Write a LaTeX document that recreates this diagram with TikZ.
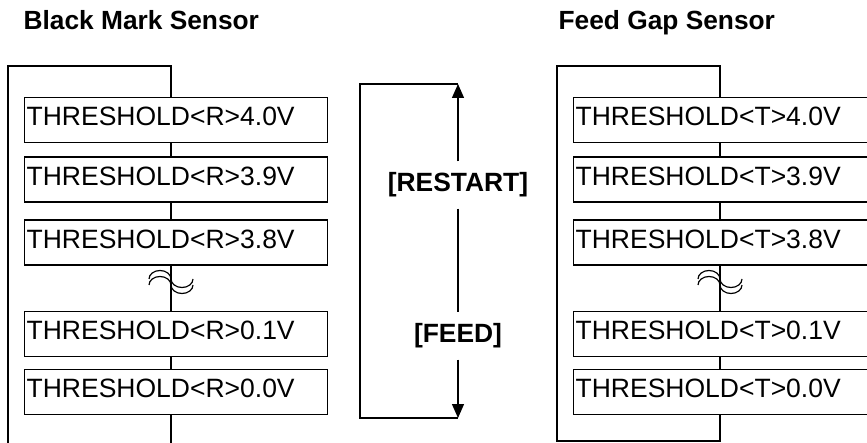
\documentclass[tikz,border=0pt]{standalone}
\usepackage{fontspec}
\setmainfont{Liberation Sans}
\usetikzlibrary{arrows.meta}

\begin{document}
\begin{tikzpicture}[x=1pt,y=-1pt,line width=1.3pt,
    thrbox/.style={draw,anchor=north west,minimum height=45pt,text width=299pt,
      inner xsep=2pt,inner ysep=0pt,align=left,text height=19pt,text depth=8pt,
      font=\fontsize{26.5}{30}\selectfont},
    hdr/.style={anchor=base west,inner sep=0pt,font=\fontsize{26.3}{30}\selectfont\bfseries},
    keyname/.style={minimum height=46pt,inner sep=0pt,font=\fontsize{26.4}{30}\selectfont\bfseries},
    feedarrow/.style={-{Triangle[length=14pt,width=12pt]}},
    wave/.style={line width=1.2pt}]
    \useasboundingbox (0,0) rectangle (867,443);
    \clip (0,0) rectangle (867,443);
    % titles
    \node[hdr] (bms) at (23,30) {Black Mark Sensor};
    \node[hdr] (fgs) at (558,30) {Feed Gap Sensor};
    % the two threshold lists
    \foreach \s/\dx/\yb in {R/0/447,T/549/441} {
      \coordinate (ax\s) at ({171+\dx},0);
      \node[thrbox] (\s1) at ({24+\dx},97) {THRESHOLD<\s>4.0V};
      \node[thrbox] (\s2) at ({24+\dx},156.5) {THRESHOLD<\s>3.9V};
      \node[thrbox] (\s3) at ({24+\dx},219.5) {THRESHOLD<\s>3.8V};
      \node[thrbox] (\s4) at ({24+\dx},311) {THRESHOLD<\s>0.1V};
      \node[thrbox] (\s5) at ({24+\dx},369) {THRESHOLD<\s>0.0V};
      \draw (\s1.north -| ax\s) -- ++(0,-31) -| ({8+\dx},\yb) -| (\s5.south -| ax\s);
      \draw (\s1.south -| ax\s) -- (\s2.north -| ax\s);
      \draw (\s2.south -| ax\s) -- (\s3.north -| ax\s);
      \draw (\s3.south -| ax\s) -- (\s4.north -| ax\s);
      \draw (\s4.south -| ax\s) -- (\s5.north -| ax\s);
      % break mark
      \foreach \y in {279,285}
        \draw[wave] ({149+\dx},\y) arc[start angle=180,end angle=360,x radius=11,y radius=8.5]
          arc[start angle=180,end angle=0,x radius=11,y radius=8.5];
    }
    % keys in the middle
    \coordinate (top) at (458,84);
    \coordinate (bot) at (458,418);
    \node[keyname] (restart) at (458,185) {[RESTART]};
    \node[keyname] (feed) at (458,336) {[FEED]};
    \draw (top) -- ++(-98,0) |- (bot);
    \draw[feedarrow] (restart) -- (top);
    \draw[feedarrow] (feed) -- (bot);
    \draw (restart) -- (feed);
  \end{tikzpicture}
\end{document}
